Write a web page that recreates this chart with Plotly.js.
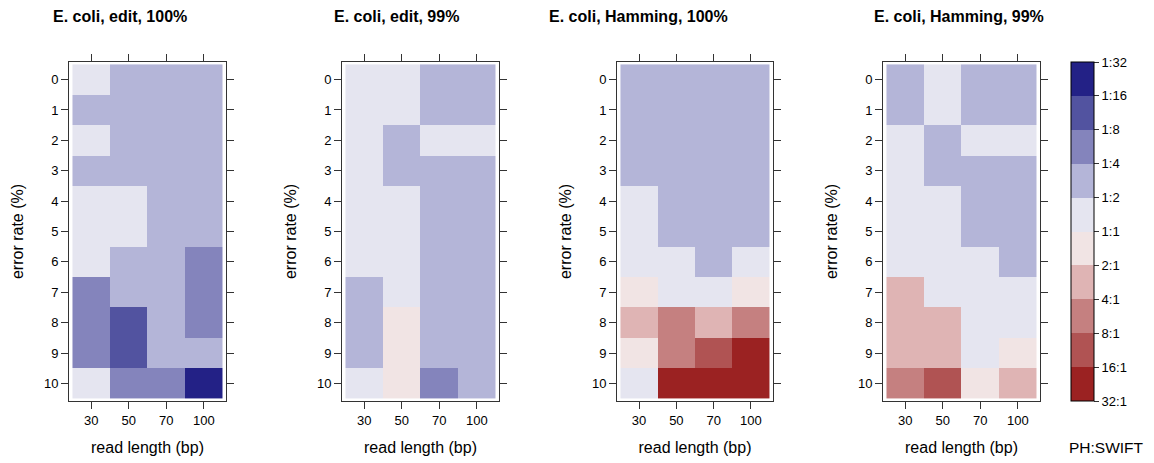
<!DOCTYPE html>
<html>
<head>
<meta charset="utf-8">
<script src="https://cdn.plot.ly/plotly-3.0.1.min.js"></script>
<style>
  html, body { margin: 0; padding: 0; background: #fff; }
  #chart { width: 1154px; height: 463px; }
</style>
</head>
<body>
<div id="chart"></div>
<script>
// ---- data ----
// read lengths (columns) and error rates (rows)
const readLengths = ['30', '50', '70', '100'];
const errorRates = ['0', '1', '2', '3', '4', '5', '6', '7', '8', '9', '10'];
// colour-bar labels, from bottom (z = -5) to top (z = +5)
const ratioLabels = ['32:1', '16:1', '8:1', '4:1', '2:1', '1:1', '1:2', '1:4', '1:8', '1:16', '1:32'];
const ratioTicks = [-5, -4, -3, -2, -1, 0, 1, 2, 3, 4, 5];
// cell values: log2 ratio (positive = blue side "1:n", negative = red side "n:1")
const edit100 = [
  [0.5, 1.5, 1.5, 1.5],
  [1.5, 1.5, 1.5, 1.5],
  [0.5, 1.5, 1.5, 1.5],
  [1.5, 1.5, 1.5, 1.5],
  [0.5, 0.5, 1.5, 1.5],
  [0.5, 0.5, 1.5, 1.5],
  [0.5, 1.5, 1.5, 2.5],
  [2.5, 1.5, 1.5, 2.5],
  [2.5, 3.5, 1.5, 2.5],
  [2.5, 3.5, 1.5, 1.5],
  [0.5, 2.5, 2.5, 4.5]
];
const edit99 = [
  [0.5, 0.5, 1.5, 1.5],
  [0.5, 0.5, 1.5, 1.5],
  [0.5, 1.5, 0.5, 0.5],
  [0.5, 1.5, 1.5, 1.5],
  [0.5, 0.5, 1.5, 1.5],
  [0.5, 0.5, 1.5, 1.5],
  [0.5, 0.5, 1.5, 1.5],
  [1.5, 0.5, 1.5, 1.5],
  [1.5, -0.5, 1.5, 1.5],
  [1.5, -0.5, 1.5, 1.5],
  [0.5, -0.5, 2.5, 1.5]
];
const hamming100 = [
  [1.5, 1.5, 1.5, 1.5],
  [1.5, 1.5, 1.5, 1.5],
  [1.5, 1.5, 1.5, 1.5],
  [1.5, 1.5, 1.5, 1.5],
  [0.5, 1.5, 1.5, 1.5],
  [0.5, 1.5, 1.5, 1.5],
  [0.5, 0.5, 1.5, 0.5],
  [-0.5, 0.5, 0.5, -0.5],
  [-1.5, -2.5, -1.5, -2.5],
  [-0.5, -2.5, -3.5, -4.5],
  [0.5, -4.5, -4.5, -4.5]
];
const hamming99 = [
  [1.5, 0.5, 1.5, 1.5],
  [1.5, 0.5, 1.5, 1.5],
  [0.5, 1.5, 0.5, 0.5],
  [0.5, 1.5, 1.5, 1.5],
  [0.5, 0.5, 1.5, 1.5],
  [0.5, 0.5, 1.5, 1.5],
  [0.5, 0.5, 0.5, 1.5],
  [-1.5, 0.5, 0.5, 0.5],
  [-1.5, -1.5, 0.5, 0.5],
  [-1.5, -1.5, 0.5, -0.5],
  [-2.5, -3.5, -0.5, -1.5]
];
const panelTitles = ['E. coli, edit, 100%', 'E. coli, edit, 99%', 'E. coli, Hamming, 100%', 'E. coli, Hamming, 99%'];
const panelData = [edit100, edit99, hamming100, hamming99];

// ---- styling ----
const W = 1154, H = 463;
const FONT = 'Liberation Sans, Arial, Helvetica, sans-serif';
const binColors = ['#9b2222', '#b05353', '#c58080', '#dfb4b4', '#f1e4e4',
                   '#e5e5f0', '#b4b5d8', '#8484bc', '#5253a0', '#232186'];
const colorscale = [];
binColors.forEach((c, i) => {
  colorscale.push([i / binColors.length, c]);
  colorscale.push([(i + 1) / binColors.length, c]);
});

const boxes = [[69, 226], [342, 499], [617, 773], [883, 1040]];
const titleCenters = [120, 396, 638, 959];
const boxTop = 62, boxBottom = 401;
const yDom = [1 - boxBottom / H, 1 - boxTop / H];

const traces = [];
const layout = {
  width: W, height: H, autosize: false,
  margin: {l: 0, r: 0, t: 0, b: 0, pad: 0},
  paper_bgcolor: '#fff', plot_bgcolor: '#fff',
  font: {family: FONT, color: '#000', size: 13},
  showlegend: false,
  annotations: []
};

const axisCommon = {
  type: 'category',
  ticks: 'outside', ticklen: 7, tickwidth: 1, tickcolor: '#333',
  showline: true, linecolor: '#333', linewidth: 1, mirror: 'ticks',
  showgrid: false, zeroline: false, fixedrange: true, automargin: false,
  tickfont: {family: FONT, size: 13, color: '#000'}
};

panelData.forEach((z, i) => {
  const n = i + 1;
  const xa = 'x' + (n === 1 ? '' : n);
  const ya = 'y' + (n === 1 ? '' : n);
  traces.push({
    type: 'heatmap',
    x: readLengths, y: errorRates, z: z,
    xaxis: xa, yaxis: ya,
    zmin: -5, zmax: 5, colorscale: colorscale,
    showscale: i === panelData.length - 1,
    hoverinfo: 'skip',
    colorbar: {
      thicknessmode: 'pixels', thickness: 23,
      lenmode: 'pixels', len: boxBottom - boxTop,
      x: 1071 / W, xanchor: 'left', y: 0.5, yanchor: 'middle',
      xpad: 0, ypad: 0,
      outlinewidth: 1, outlinecolor: '#000',
      ticks: 'outside', ticklen: 5, tickcolor: '#333',
      tickvals: ratioTicks, ticktext: ratioLabels,
      tickfont: {family: FONT, size: 13, color: '#000'}
    }
  });
  layout['xaxis' + (n === 1 ? '' : n)] = Object.assign({}, axisCommon, {
    domain: [boxes[i][0] / W, boxes[i][1] / W],
    anchor: ya,
    range: [-0.593, 3.593],
    title: {text: 'read length (bp)', font: {family: FONT, size: 16, color: '#000'}, standoff: 15}
  });
  layout['yaxis' + (n === 1 ? '' : n)] = Object.assign({}, axisCommon, {
    domain: yDom,
    anchor: xa,
    range: [10.58, -0.58],
    title: {text: 'error rate (%)', font: {family: FONT, size: 16, color: '#000'}, standoff: 16}
  });
  layout.annotations.push({
    text: '<b>' + panelTitles[i] + '</b>',
    xref: 'paper', yref: 'paper',
    x: titleCenters[i] / W, y: 1 - 17 / H,
    xanchor: 'center', yanchor: 'middle', showarrow: false,
    font: {family: FONT, size: 16, color: '#000'}
  });
});

layout.annotations.push({
  text: 'PH:SWIFT', xref: 'paper', yref: 'paper',
  x: 1106 / W, y: 1 - 447 / H, xanchor: 'center', yanchor: 'middle',
  showarrow: false, font: {family: FONT, size: 15.5, color: '#000'}
});

Plotly.newPlot('chart', traces, layout, {displayModeBar: false, staticPlot: true});
</script>
</body>
</html>
